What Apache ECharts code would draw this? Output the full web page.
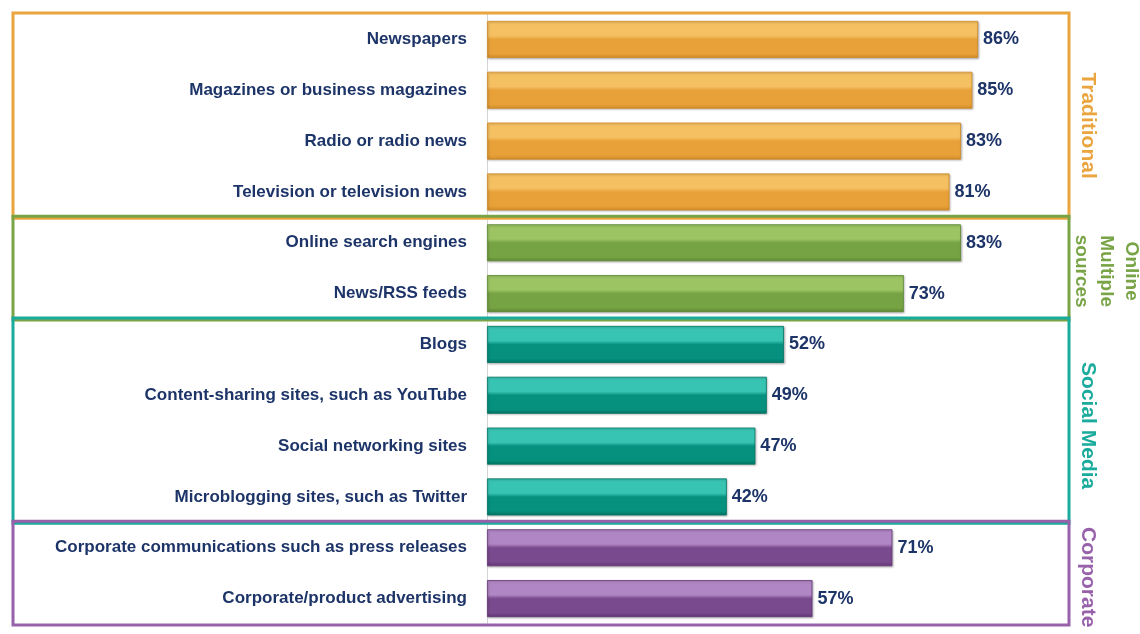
<!DOCTYPE html>
<html>
<head>
<meta charset="utf-8">
<script src="https://cdn.jsdelivr.net/npm/echarts@6/dist/echarts.min.js"></script>
<style>
  html, body { margin: 0; padding: 0; background: #ffffff; }
  #chart { width: 1140px; height: 634px; }
</style>
</head>
<body>
<div id="chart"></div>
<script>
// Information sources, share of respondents (%)
const categories = [
  'Newspapers',
  'Magazines or business magazines',
  'Radio or radio news',
  'Television or television news',
  'Online search engines',
  'News/RSS feeds',
  'Blogs',
  'Content-sharing sites, such as YouTube',
  'Social networking sites',
  'Microblogging sites, such as Twitter',
  'Corporate communications such as press releases',
  'Corporate/product advertising'
];
const values = [86, 85, 83, 81, 83, 73, 52, 49, 47, 42, 71, 57];

// Source groups: name shown on the right and number of rows in each group
const groupNames = ['Traditional', 'Online\nMultiple\nsources', 'Social Media', 'Corporate'];
const groupSizes = [4, 2, 4, 2];

// Palette per group: frame/label colour, bar highlight, bar body, bar shade
const groupColors = [
  { frame: '#eaa53f', light: '#f5c061', body: '#e8a139', dark: '#d18a27' },
  { frame: '#78a446', light: '#9cc463', body: '#76a343', dark: '#5d8832' },
  { frame: '#1aab9c', light: '#38c4b3', body: '#06917f', dark: '#007363' },
  { frame: '#9862ab', light: '#b186c4', body: '#7a4a8f', dark: '#623676' }
];

// Side captions sit a little below the middle of their frames
const captionDrop = [10, 3, 5, 4];

const groupOfRow = [];
groupSizes.forEach((n, g) => { for (let i = 0; i < n; i++) groupOfRow.push(g); });

function barColor(c) {
  return new echarts.graphic.LinearGradient(0, 0, 0, 1, [
    { offset: 0, color: c.light },
    { offset: 0.4, color: c.light },
    { offset: 0.5, color: c.body },
    { offset: 0.88, color: c.body },
    { offset: 1, color: c.dark }
  ]);
}

const chart = echarts.init(document.getElementById('chart'), null, { renderer: 'canvas' });

const textColor = '#1d3468';
const font = '"Liberation Sans", Arial, Helvetica, sans-serif';

chart.setOption({
  animation: false,
  grid: { left: 487, right: 82, top: 14, bottom: 10 },
  xAxis: {
    type: 'value', min: 0, max: 100,
    axisLine: { show: false }, axisTick: { show: false },
    axisLabel: { show: false }, splitLine: { show: false }
  },
  yAxis: {
    type: 'category',
    inverse: true,
    data: categories,
    axisLine: { show: true, lineStyle: { color: '#d4d4d4', width: 1 } },
    axisTick: { show: false },
    axisLabel: {
      margin: 20,
      color: textColor,
      fontFamily: font,
      fontWeight: 'bold',
      fontSize: 17
    }
  },
  series: [{
    type: 'bar',
    barWidth: 37,
    data: values.map((v, i) => ({
      value: v,
      itemStyle: {
        color: barColor(groupColors[groupOfRow[i]]),
        borderColor: groupColors[groupOfRow[i]].dark,
        borderWidth: 0.8,
        shadowColor: 'rgba(0,0,0,0.25)',
        shadowBlur: 2,
        shadowOffsetX: 1,
        shadowOffsetY: 1
      }
    })),
    label: {
      show: true,
      position: 'right',
      distance: 5,
      formatter: '{c}%',
      color: textColor,
      fontFamily: font,
      fontWeight: 'bold',
      fontSize: 18
    }
  }]
});

// Group frames and side captions, placed from the category axis bands
const bandH = chart.getModel().getComponent('grid').coordinateSystem.getRect().height / categories.length;
const graphics = [];
let start = 0;
groupSizes.forEach((n, g) => {
  const yTop = chart.convertToPixel({ yAxisIndex: 0 }, start) - bandH / 2;
  const yBot = chart.convertToPixel({ yAxisIndex: 0 }, start + n - 1) + bandH / 2;
  const c = groupColors[g];
  graphics.push({
    type: 'rect',
    z: 10 + g,
    shape: { x: 13, y: yTop - 1, width: 1056, height: yBot - yTop + 2 },
    style: { fill: null, stroke: c.frame, lineWidth: 3 },
    silent: true
  });
  graphics.push({
    type: 'text',
    z: 20,
    x: g === 1 ? 1106 : 1088,
    y: (yTop + yBot) / 2 + captionDrop[g],
    rotation: -Math.PI / 2,
    style: {
      text: groupNames[g],
      fill: c.frame,
      font: 'bold ' + (g === 1 ? 19 : 21) + 'px ' + font,
      align: 'center',
      verticalAlign: 'middle',
      lineHeight: 25
    }
  });
  start += n;
});
chart.setOption({ graphic: graphics });
</script>
</body>
</html>
